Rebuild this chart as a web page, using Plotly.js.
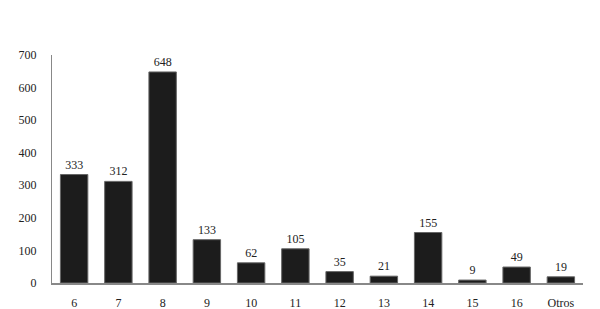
<!DOCTYPE html>
<html><head><meta charset="utf-8">
<script src="https://cdn.plot.ly/plotly-3.0.1.min.js"></script>
<style>html,body{margin:0;padding:0;background:#fff}</style>
</head><body>
<div id="chart" style="width:600px;height:309px"></div>
<script>
const categories = ["6","7","8","9","10","11","12","13","14","15","16","Otros"];
const values = [333,312,648,133,62,105,35,21,155,9,49,19];
const yTicks = [0,100,200,300,400,500,600,700];

const fnt = {family: "Liberation Serif, Times New Roman, serif", size: 12, color: "#222"};
Plotly.newPlot("chart", [{
  type: "bar",
  x: categories,
  y: values,
  text: values.map(String),
  textposition: "outside",
  cliponaxis: false,
  textfont: fnt,
  marker: {color: "#1c1c1c", line: {color: "#666", width: 1}},
  hoverinfo: "none"
}], {
  width: 600, height: 309,
  margin: {l: 52, r: 17, t: 55, b: 26},
  paper_bgcolor: "#fff", plot_bgcolor: "#fff",
  bargap: 0.38,
  showlegend: false,
  font: fnt,
  xaxis: {type: "category", showline: true, linecolor: "#888", linewidth: 1.5, ticks: "", showgrid: false, zeroline: false, tickfont: fnt, ticklabelstandoff: 8},
  yaxis: {range: [0, 700], tickvals: yTicks, showline: true, linecolor: "#888", linewidth: 1, ticks: "", showgrid: false, zeroline: false, tickfont: fnt, ticklabelstandoff: 12}
}, {displayModeBar: false, staticPlot: true});
</script>
</body></html>
